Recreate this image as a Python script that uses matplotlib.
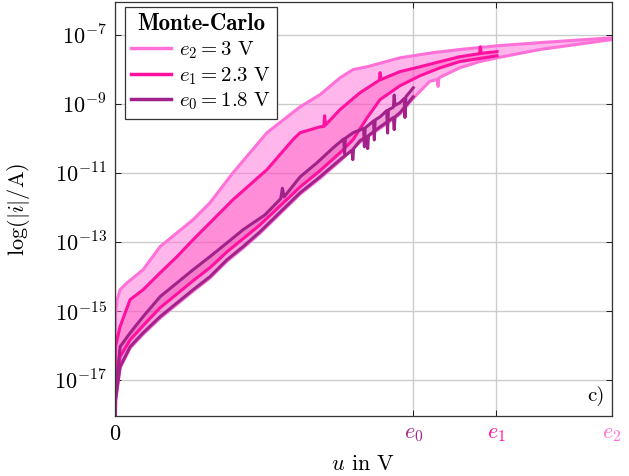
import numpy as np
import matplotlib
matplotlib.use("Agg")
import matplotlib.pyplot as plt
from matplotlib.lines import Line2D

plt.rcParams['mathtext.fontset'] = 'cm'
plt.rcParams['font.family'] = ['cmr10', 'DejaVu Serif']
plt.rcParams['axes.formatter.use_mathtext'] = True

# Monte-Carlo envelopes, log10(|i|/A) versus u in V
# e2 = 3 V
e2_up_u = [0.0, 0.003, 0.012, 0.03, 0.072, 0.169, 0.272, 0.374, 0.471, 0.573, 0.712, 0.917,
           1.117, 1.237, 1.358, 1.437, 1.521, 1.72, 1.92, 2.08, 2.31, 2.565, 3.0]
e2_up_y = [-19.0, -15.06, -14.68, -14.39, -14.19, -13.81, -13.14, -12.74, -12.36, -11.87, -11.0, -9.84,
           -9.09, -8.74, -8.25, -8.01, -7.93, -7.67, -7.52, -7.43, -7.32, -7.23, -7.09]
e2_lo_u = [0.0, 0.003, 0.03, 0.091, 0.169, 0.272, 0.374, 0.471, 0.573, 0.676, 0.773, 0.875,
           1.117, 1.237, 1.358, 1.479, 1.6, 1.72, 1.8, 1.9, 1.945, 1.95, 1.955, 2.08, 2.2, 2.306,
           2.565, 3.0]
e2_lo_y = [-19.0, -17.62, -16.66, -16.08, -15.68, -15.21, -14.81, -14.43, -14.05, -13.56, -13.18, -12.75,
           -11.62, -11.16, -10.66, -10.11, -9.71, -9.30, -8.84, -8.35, -8.30, -8.50, -8.25, -7.96, -7.78,
           -7.67, -7.43, -7.14]

# e1 = 2.3 V
e1_up_u = [0.0, 0.002, 0.03, 0.09, 0.169, 0.272, 0.374, 0.471, 0.573, 0.712, 0.917, 1.074,
           1.117, 1.237, 1.26, 1.265, 1.27, 1.358, 1.479, 1.595, 1.6, 1.605, 1.72, 1.841, 1.962,
           2.08, 2.2, 2.205, 2.21, 2.306]
e1_up_y = [-19.0, -16.04, -15.46, -14.68, -14.39, -13.9, -13.43, -12.94, -12.45, -11.78, -10.91, -10.04,
           -9.84, -9.67, -9.66, -9.35, -9.62, -9.17, -8.68, -8.32, -8.10, -8.30, -8.07, -7.93, -7.78,
           -7.64, -7.55, -7.35, -7.54, -7.49]
e1_lo_u = [0.0, 0.003, 0.03, 0.091, 0.169, 0.272, 0.374, 0.471, 0.573, 0.676, 0.773, 0.875,
           1.117, 1.237, 1.358, 1.437, 1.521, 1.6, 1.72, 1.841, 1.962, 2.08, 2.306]
e1_lo_y = [-19.0, -17.14, -16.33, -15.84, -15.43, -14.91, -14.51, -14.13, -13.75, -13.29, -12.91, -12.51,
           -11.41, -10.94, -10.42, -10.04, -9.41, -8.88, -8.48, -8.19, -7.96, -7.78, -7.61]

# e0 = 1.8 V
e0_up_u = [0.0, 0.003, 0.03, 0.091, 0.169, 0.272, 0.374, 0.471, 0.573, 0.676, 0.773, 0.905,
           1.0, 1.01, 1.02, 1.117, 1.219, 1.316, 1.38, 1.385, 1.39, 1.437, 1.50, 1.505, 1.51,
           1.56, 1.565, 1.57, 1.6, 1.64, 1.645, 1.65, 1.68, 1.685, 1.69, 1.72, 1.745, 1.75, 1.755, 1.8]
e0_up_y = [-19.0, -17.38, -16.04, -15.64, -15.17, -14.59, -14.19, -13.81, -13.43, -13.03, -12.65, -12.22,
           -11.75, -11.45, -11.70, -11.12, -10.71, -10.28, -10.02, -10.45, -10.0, -9.84, -9.72, -10.25, -9.70,
           -9.50, -10.05, -9.47, -9.38, -9.20, -9.85, -9.18, -9.10, -8.75, -9.05, -8.97, -8.85, -9.40, -8.80, -8.54]
e0_lo_u = [0.0, 0.003, 0.03, 0.091, 0.169, 0.272, 0.374, 0.471, 0.573, 0.676, 0.773, 0.875,
           1.117, 1.237, 1.358, 1.43, 1.435, 1.44, 1.479, 1.52, 1.525, 1.53, 1.6, 1.68, 1.685, 1.69,
           1.72, 1.8]
e0_lo_y = [-19.0, -17.58, -16.62, -16.04, -15.64, -15.17, -14.77, -14.39, -14.01, -13.52, -13.14, -12.71,
           -11.58, -11.12, -10.62, -10.35, -10.62, -10.30, -10.07, -9.95, -10.30, -9.92, -9.67, -9.40, -9.75,
           -9.38, -9.26, -8.80]

e_vals = [1.8, 2.3, 3.0]
c_e0, c_e1, c_e2 = '#a3228a', '#ff109f', '#ff70d8'

fig = plt.figure(figsize=(6.29, 4.76), dpi=100)
ax = fig.add_axes([0.183, 0.126, 0.79, 0.870])

def band(u_up, y_up, u_lo, y_lo, color, alpha):
    grid = np.union1d(u_up, u_lo)
    top = np.interp(grid, u_up, y_up)
    bot = np.interp(grid, u_lo, y_lo)
    ax.fill_between(grid, 10.0 ** bot, 10.0 ** top, color=color, alpha=alpha, lw=0)

band(e2_up_u, e2_up_y, e2_lo_u, e2_lo_y, c_e2, 0.5)
band(e1_up_u, e1_up_y, e1_lo_u, e1_lo_y, c_e1, 0.25)
band(e0_up_u, e0_up_y, e0_lo_u, e0_lo_y, c_e0, 0.15)

lw = 2.2
for u, y, c in [(e2_up_u, e2_up_y, c_e2), (e2_lo_u, e2_lo_y, c_e2),
                (e1_lo_u, e1_lo_y, c_e1), (e1_up_u, e1_up_y, c_e1),
                (e0_up_u, e0_up_y, c_e0), (e0_lo_u, e0_lo_y, c_e0)]:
    ax.plot(u, 10.0 ** np.array(y), color=c, lw=lw, solid_joinstyle='round')

ax.set_yscale('log')
ax.set_xlim(0, 3.0)
ax.set_ylim(10 ** -18.05, 10 ** -6.05)
yt = [-17, -15, -13, -11, -9, -7]
ax.set_yticks([10.0 ** k for k in yt])
ax.set_yticklabels([r'$10^{%d}$' % k for k in yt])
ax.yaxis.set_minor_locator(matplotlib.ticker.NullLocator())
ax.set_xticks([0] + e_vals)
ax.set_xticklabels(['$0$', '$e_0$', '$e_1$', '$e_2$'])
for lab, c in zip(ax.get_xticklabels(), ['black', c_e0, c_e1, c_e2]):
    lab.set_color(c)
ax.tick_params(labelsize=16, direction='in', length=4, top=True, right=True, width=0.6, pad=6)
ax.grid(True, color='#cccccc', lw=1.0)
ax.set_axisbelow(True)
for s in ax.spines.values():
    s.set_linewidth(0.9)
    s.set_color('#333333')

ax.set_xlabel(r'$u$ in V', fontsize=16, labelpad=8)
ax.set_ylabel(r'$\log(|i|/\mathrm{A})$', fontsize=16, labelpad=16)
ax.text(0.985, 0.025, 'c)', transform=ax.transAxes, ha='right', va='bottom', fontsize=15)

handles = [Line2D([], [], color=c_e2, lw=2.5), Line2D([], [], color=c_e1, lw=2.5),
           Line2D([], [], color=c_e0, lw=2.5)]
labels = [r'$e_2 = 3\ \mathrm{V}$', r'$e_1 = 2.3\ \mathrm{V}$', r'$e_0 = 1.8\ \mathrm{V}$']
leg = ax.legend(handles, labels, loc='upper left', bbox_to_anchor=(0.02, 0.988), fontsize=15,
                title='Monte-Carlo', title_fontproperties={'family': 'cmb10', 'size': 16.5},
                fancybox=False, edgecolor='#333333', framealpha=1, handlelength=1.9,
                handletextpad=0.4, borderpad=0.3, labelspacing=0.2, borderaxespad=0.0)
leg.get_frame().set_linewidth(0.9)

fig.savefig('out.png', dpi=100)
